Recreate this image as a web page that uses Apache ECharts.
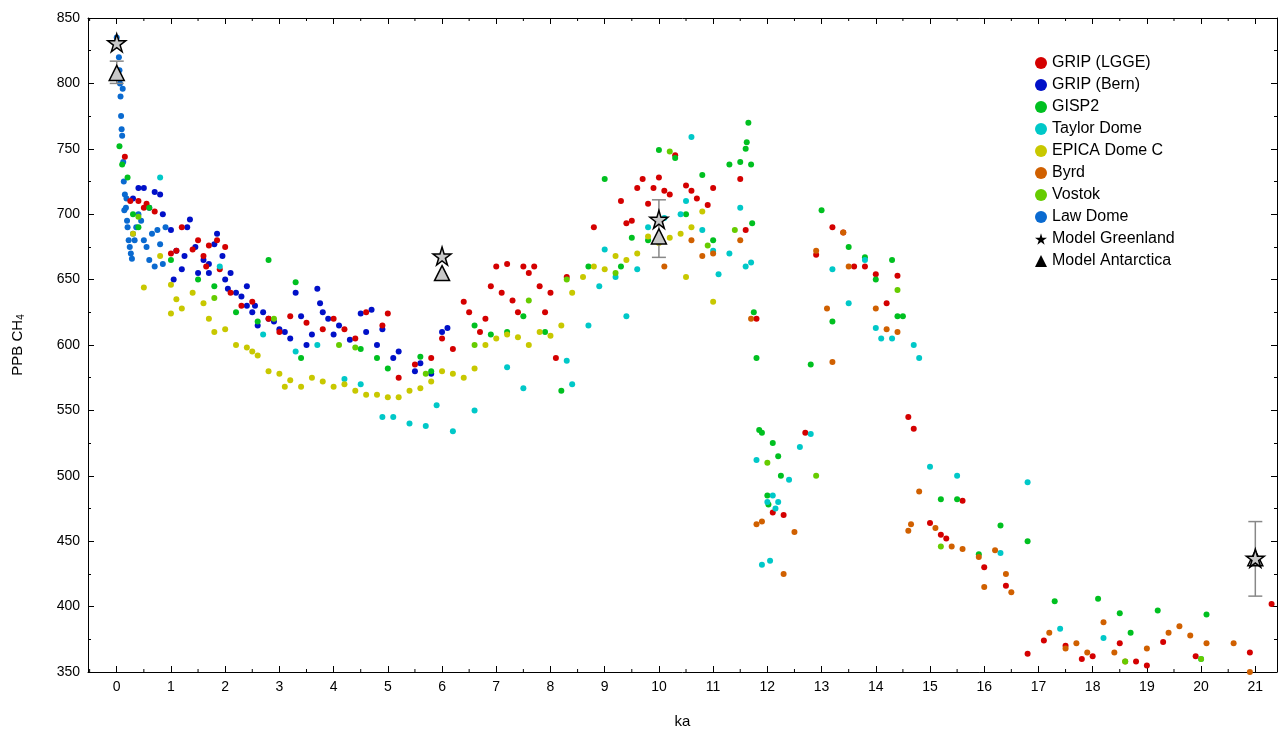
<!DOCTYPE html>
<html lang="en">
<head>
  <meta charset="UTF-8">
  <title>CH4</title>
  <script src="https://cdn.jsdelivr.net/npm/echarts@6/dist/echarts.min.js"></script>
  <style>body{margin:0;background:#fff}</style>
</head>
<body>
<div id="main" style="width: 1279px; height: 735px;"></div>
<script>
var lawDome = [[0.0,835],[0.02,830],[0.04,820],[0.05,810],[0.06,800],[0.07,790],[0.08,775],[0.09,765],[0.1,760],[0.11,796],[0.12,740],[0.13,725],[0.14,703],[0.15,715],[0.17,705],[0.18,712],[0.19,695],[0.2,690],[0.22,680],[0.24,675],[0.26,670],[0.28,666],[0.3,685],[0.33,680],[0.36,690],[0.4,700],[0.45,695],[0.5,680],[0.55,675],[0.6,665],[0.65,685],[0.7,660],[0.75,688],[0.8,677],[0.85,662],[0.9,690]]
var gripBern = [[0.3,712],[0.4,720],[0.5,720],[0.6,705],[0.7,717],[0.8,715],[0.85,700],[1.0,688],[1.05,650],[1.1,672],[1.2,658],[1.25,668],[1.3,690],[1.35,696],[1.45,675],[1.5,655],[1.6,665],[1.7,662],[1.7,655],[1.8,677],[1.85,685],[1.95,668],[2.0,650],[2.05,643],[2.1,655],[2.2,640],[2.3,637],[2.4,630],[2.4,645],[2.5,625],[2.55,630],[2.6,615],[2.7,625],[2.8,620],[2.9,618],[3.0,612],[3.1,610],[3.2,605],[3.3,640],[3.4,622],[3.5,600],[3.6,608],[3.7,643],[3.75,632],[3.8,625],[3.9,620],[4.0,608],[4.1,615],[4.3,604],[4.5,624],[4.6,610],[4.7,627],[4.8,600],[4.9,612],[5.1,590],[5.2,595],[5.5,580],[5.6,586],[5.8,578],[6.0,610],[6.1,613]]
var gripLgge = [[0.15,744],[0.25,710],[0.4,710],[0.5,705],[0.55,708],[0.7,702],[1.0,670],[1.1,672],[1.2,690],[1.4,673],[1.5,680],[1.6,668],[1.65,660],[1.7,676],[1.85,680],[1.9,658],[2.0,675],[2.1,640],[2.3,630],[2.5,633],[2.8,620],[3.0,610],[3.2,622],[3.5,617],[3.8,612],[4.0,620],[4.2,612],[4.4,605],[4.6,625],[4.9,615],[5.0,624],[5.2,575],[5.5,585],[5.8,590],[6.0,605],[6.2,597],[6.4,633],[6.5,625],[6.7,610],[6.8,620],[6.9,645],[7.0,660],[7.1,640],[7.2,662],[7.3,634],[7.4,625],[7.5,660],[7.6,655],[7.7,660],[7.8,645],[7.9,625],[8.0,640],[8.1,590],[8.3,652],[8.8,690],[9.3,710],[9.4,693],[9.5,695],[9.6,720],[9.7,727],[9.8,708],[9.9,720],[10.0,728],[10.1,718],[10.2,715],[10.3,745],[10.5,722],[10.6,718],[10.7,712],[10.9,707],[11.0,720],[11.5,727],[11.6,688],[11.8,620],[12.1,472],[12.3,470],[12.7,533],[12.9,669],[13.2,690],[13.4,686],[13.6,660],[13.8,660],[14.0,654],[14.2,632],[14.4,653],[14.6,545],[14.7,536],[15.0,464],[15.2,455],[15.3,452],[15.6,481],[16.0,430],[16.4,416],[16.8,364],[17.1,374],[17.5,370],[17.8,360],[18.0,362],[18.5,372],[18.8,358],[19.0,355],[19.3,373],[19.9,362],[20.9,365],[21.3,402]]
var gisp2 = [[0.05,752],[0.1,738],[0.2,728],[0.3,700],[0.4,690],[0.6,705],[1.0,665],[1.5,650],[1.8,645],[2.2,625],[2.6,618],[2.8,665],[3.3,648],[3.4,590],[4.5,597],[4.8,590],[5.0,582],[5.6,591],[5.8,580],[6.6,615],[6.9,608],[7.2,610],[7.5,622],[7.9,610],[8.2,565],[8.7,660],[9.0,727],[9.3,660],[9.5,682],[9.8,680],[10.0,749],[10.3,743],[10.5,700],[10.8,730],[11.0,680],[11.3,738],[11.5,740],[11.6,750],[11.62,755],[11.65,770],[11.7,738],[11.72,693],[11.75,625],[11.8,590],[11.85,535],[11.9,533],[12.0,485],[12.1,525],[12.2,515],[12.02,478],[12.25,500],[12.8,585],[13.0,703],[13.2,618],[13.5,675],[13.8,667],[14.0,650],[14.3,665],[14.4,622],[14.5,622],[15.2,482],[15.5,482],[15.9,440],[16.3,462],[16.8,450],[17.3,404],[18.1,406],[18.5,395],[18.7,380],[19.2,397],[20.1,394]]
var taylorDome = [[0.8,728],[1.9,660],[2.7,608],[3.3,595],[3.7,600],[4.2,574],[4.5,570],[4.9,545],[5.1,545],[5.4,540],[5.7,538],[5.9,554],[6.2,534],[6.6,550],[7.2,583],[7.5,567],[8.3,588],[8.4,570],[8.7,615],[8.9,645],[9.0,673],[9.2,652],[9.4,622],[9.6,658],[9.8,690],[10.1,697],[10.4,700],[10.6,759],[10.5,710],[10.8,688],[11.0,672],[11.1,654],[11.3,670],[11.5,705],[11.6,660],[11.7,663],[11.8,512],[11.9,432],[12.0,480],[12.05,435],[12.1,485],[12.15,475],[12.2,480],[12.4,497],[12.8,532],[12.6,522],[13.2,658],[13.5,632],[13.8,665],[14.0,613],[14.1,605],[14.3,605],[14.7,600],[14.8,590],[15.0,507],[15.5,500],[16.3,441],[16.8,495],[17.4,383],[18.2,376],[20.0,360]]
var epica = [[0.3,685],[0.5,644],[0.8,668],[1.0,646],[1.0,624],[1.1,635],[1.2,628],[1.4,640],[1.6,632],[1.7,620],[1.8,610],[2.0,612],[2.2,600],[2.4,598],[2.5,595],[2.6,592],[2.8,580],[3.0,578],[3.1,568],[3.2,573],[3.4,568],[3.6,575],[3.8,572],[4.0,568],[4.2,570],[4.4,565],[4.6,562],[4.8,562],[5.0,560],[5.2,560],[5.4,565],[5.6,567],[5.8,572],[6.0,580],[6.2,578],[6.4,575],[6.6,582],[6.8,600],[7.0,605],[7.2,608],[7.4,606],[7.6,600],[7.8,610],[8.0,607],[8.2,615],[8.4,640],[8.6,652],[8.8,660],[9.0,658],[9.2,668],[9.4,665],[9.6,670],[9.8,683],[10.0,678],[10.2,682],[10.4,685],[10.5,652],[10.6,690],[10.8,702],[11.0,633]]
var byrd = [[10.1,660],[10.6,680],[10.8,668],[11.0,670],[11.5,680],[11.7,620],[11.8,463],[11.9,465],[12.3,425],[12.5,457],[12.9,672],[13.1,628],[13.2,587],[13.4,686],[13.5,660],[14.0,628],[14.2,612],[14.4,610],[14.6,458],[14.65,463],[14.8,488],[15.1,460],[15.4,446],[15.6,444],[15.9,438],[16.0,415],[16.2,443],[16.4,425],[16.5,411],[17.2,380],[17.5,368],[17.7,372],[17.9,365],[18.2,388],[18.4,365],[18.6,358],[19.0,368],[19.4,380],[19.6,385],[19.8,378],[20.1,372],[20.6,372],[20.9,350]]
var vostok = [[0.4,698],[1.8,636],[2.9,620],[4.1,600],[4.4,598],[5.7,578],[6.6,600],[7.6,634],[8.3,650],[9.2,655],[10.2,748],[10.9,676],[11.4,688],[12.0,510],[12.9,500],[14.4,642],[15.2,446],[18.6,358],[20.0,360]]
var modelGreenland = [[0,831],[6,668],[10,696],[21,437]]
var modelAntarctica = [[0,808],[6,655],[10,683],[21,437]]
var errorBars = [[0,800,817],[10,667,711],[21,408,465]]
var xMajor = [0,1,2,3,4,5,6,7,8,9,10,11,12,13,14,15,16,17,18,19,20,21]
var xMinor = [-0.5,0.5,1.5,2.5,3.5,4.5,5.5,6.5,7.5,8.5,9.5,10.5,11.5,12.5,13.5,14.5,15.5,16.5,17.5,18.5,19.5,20.5]

var star = 'path://M50,0 L61,35 L98,35 L68,57 L79,91 L50,70 L21,91 L32,57 L2,35 L39,35 Z'
var font = 'Liberation Sans'

function dots(name, data, color) {
  return {type: 'scatter', name: name, data: data, symbolSize: 6, itemStyle: {color: color, opacity: 1}, z: 2}
}

function xAx(pos, ticks, len, labels) {
  return {
    type: 'value', position: pos, min: -0.53, max: 21.4, interval: 0.01,
    axisLine: {show: true, onZero: false, lineStyle: {color: '#000'}},
    axisTick: {show: true, inside: true, length: len, customValues: ticks, lineStyle: {color: '#000'}},
    splitLine: {show: false},
    axisLabel: labels ? {fontSize: 14, color: '#000', fontFamily: font, customValues: xMajor} : {show: false},
    name: labels ? 'ka' : '', nameLocation: 'middle', nameGap: 42,
    nameTextStyle: {fontSize: 15, color: '#000', fontFamily: font}
  }
}

function yAx(pos, labels) {
  return {
    type: 'value', position: pos, min: 350, max: 850, interval: 50,
    name: labels ? 'PPB CH{s|4}' : '', nameLocation: 'middle', nameGap: 62,
    nameTextStyle: {fontSize: 15, color: '#000', fontFamily: font, rich: {s: {fontSize: 10, verticalAlign: 'bottom', padding: [6, 0, 0, 0]}}},
    axisLine: {show: true, onZero: false, lineStyle: {color: '#000'}},
    axisTick: {show: true, inside: true, length: 6, lineStyle: {color: '#000'}},
    minorTick: {show: true, splitNumber: 2, length: 3, lineStyle: {color: '#000'}},
    splitLine: {show: false},
    axisLabel: labels ? {fontSize: 14, color: '#000', fontFamily: font} : {show: false}
  }
}

var myChart = echarts.init(document.getElementById('main'))
var option = {
  animation: false,
  grid: {left: 88, right: 2, top: 18, bottom: 63},
  legend: {
    orient: 'vertical', left: 1030, top: 50, itemGap: 6, itemWidth: 12, itemHeight: 12,
    textStyle: {fontSize: 16, color: '#000', fontFamily: font},
    data: [
      {name: 'GRIP (LGGE)', icon: 'circle'}, {name: 'GRIP (Bern)', icon: 'circle'}, {name: 'GISP2', icon: 'circle'},
      {name: 'Taylor Dome', icon: 'circle'}, {name: 'EPICA Dome C', icon: 'circle'}, {name: 'Byrd', icon: 'circle'},
      {name: 'Vostok', icon: 'circle'}, {name: 'Law Dome', icon: 'circle'},
      {name: 'Model Greenland', icon: star, itemStyle: {color: '#000', borderWidth: 0}},
      {name: 'Model Antarctica', icon: 'triangle', itemStyle: {color: '#000', borderWidth: 0}}
    ]
  },
  xAxis: [xAx('bottom', xMajor, 6, true), xAx('top', xMajor, 6, false)],
  yAxis: [yAx('left', true), yAx('right', false)],
  series: [
    dots('Law Dome', lawDome, '#0a6ad0'),
    dots('GRIP (Bern)', gripBern, '#0010c8'),
    dots('GRIP (LGGE)', gripLgge, '#d40000'),
    dots('GISP2', gisp2, '#00c020'),
    dots('Taylor Dome', taylorDome, '#00c8c8'),
    dots('EPICA Dome C', epica, '#c8c800'),
    dots('Byrd', byrd, '#d06000'),
    dots('Vostok', vostok, '#66cc00'),
    {
      type: 'custom', data: errorBars, z: 3,
      renderItem: function (params, api) {
        var lo = api.coord([api.value(0), api.value(1)])
        var hi = api.coord([api.value(0), api.value(2)])
        var st = {stroke: '#888', lineWidth: 1.5}
        return {type: 'group', children: [
          {type: 'line', shape: {x1: lo[0], y1: lo[1], x2: hi[0], y2: hi[1]}, style: st},
          {type: 'line', shape: {x1: lo[0] - 7, y1: lo[1], x2: lo[0] + 7, y2: lo[1]}, style: st},
          {type: 'line', shape: {x1: hi[0] - 7, y1: hi[1], x2: hi[0] + 7, y2: hi[1]}, style: st}
        ]}
      }
    },
    {
      // minor x ticks (half-ka) along bottom and top edges
      type: 'custom', data: xMinor, silent: true, z: 1,
      renderItem: function (params, api) {
        var b = api.coord([api.value(0), 350])
        var t = api.coord([api.value(0), 850])
        var st = {stroke: '#000', lineWidth: 1}
        return {type: 'group', children: [
          {type: 'line', shape: {x1: b[0], y1: b[1], x2: b[0], y2: b[1] - 3}, style: st},
          {type: 'line', shape: {x1: t[0], y1: t[1], x2: t[0], y2: t[1] + 3}, style: st}
        ]}
      }
    },
    {type: 'scatter', name: 'Model Antarctica', data: modelAntarctica, symbol: 'triangle', symbolSize: 15,
      itemStyle: {color: '#c8c8c8', borderColor: '#000', borderWidth: 1.5, opacity: 1}, z: 4},
    {type: 'scatter', name: 'Model Greenland', data: modelGreenland, symbol: star, symbolSize: 18,
      itemStyle: {color: '#c8c8c8', borderColor: '#000', borderWidth: 1.5, opacity: 1}, z: 5}
  ]
}
myChart.setOption(option)
</script>
</body>
</html>
